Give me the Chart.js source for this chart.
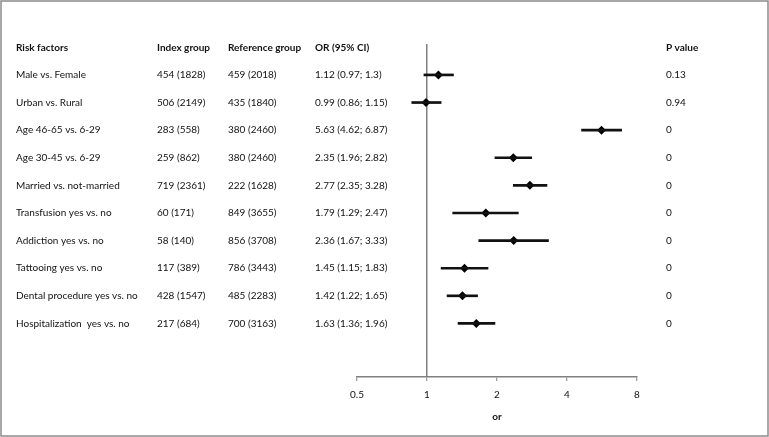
<!DOCTYPE html>
<html>
<head>
<meta charset="utf-8">
<title>Risk factors forest plot</title>
<script src="https://cdn.jsdelivr.net/npm/chart.js"></script>
<style>
  html, body { margin: 0; padding: 0; background: #fff; }
  #wrap { position: relative; width: 769px; height: 437px; }
</style>
</head>
<body>
<div id="wrap">
  <canvas id="myChart"></canvas>
</div>

<script>
    // table data
    const headers = ['Risk factors', 'Index group', 'Reference group', 'OR (95% CI)', 'P value'];
    const riskFactors = [
        'Male vs. Female',
        'Urban vs. Rural',
        'Age 46-65 vs. 6-29',
        'Age 30-45 vs. 6-29',
        'Married vs. not-married',
        'Transfusion yes vs. no',
        'Addiction yes vs. no',
        'Tattooing yes vs. no',
        'Dental procedure yes vs. no',
        'Hospitalization  yes vs. no'
    ];
    const indexGroup = ['454 (1828)', '506 (2149)', '283 (558)', '259 (862)', '719 (2361)',
        '60 (171)', '58 (140)', '117 (389)', '428 (1547)', '217 (684)'];
    const referenceGroup = ['459 (2018)', '435 (1840)', '380 (2460)', '380 (2460)', '222 (1628)',
        '849 (3655)', '856 (3708)', '786 (3443)', '485 (2283)', '700 (3163)'];
    const oddsRatio = [1.12, 0.99, 5.63, 2.35, 2.77, 1.79, 2.36, 1.45, 1.42, 1.63];
    const ciLow = [0.97, 0.86, 4.62, 1.96, 2.35, 1.29, 1.67, 1.15, 1.22, 1.36];
    const ciHigh = [1.3, 1.15, 6.87, 2.82, 3.28, 2.47, 3.33, 1.83, 1.65, 1.96];
    const pValues = ['0.13', '0.94', '0', '0', '0', '0', '0', '0', '0', '0'];
    const xTicks = [0.5, 1, 2, 4, 8];
    const xTitle = 'or';

    const FONT = 'Lato, "Liberation Sans", sans-serif';
    const colX = [16, 157, 228, 315, 666]; // left edge of each text column

    // draws the table text next to the plot, one line per y value
    const tableText = {
        id: 'tableText',
        afterDraw(chart) {
            const ctx = chart.ctx;
            const y = chart.scales.y;
            ctx.save();
            ctx.fillStyle = '#111';
            ctx.textBaseline = 'middle';
            ctx.textAlign = 'left';

            ctx.font = 'bold 10px ' + FONT;
            headers.forEach((h, c) => ctx.fillText(h, colX[c], y.getPixelForValue(-1)));

            ctx.font = '10px ' + FONT;
            riskFactors.forEach((name, i) => {
                const py = y.getPixelForValue(i);
                const orText = oddsRatio[i] + ' (' + ciLow[i] + '; ' + ciHigh[i] + ')';
                const cells = [name, indexGroup[i], referenceGroup[i], orText, pValues[i]];
                cells.forEach((t, c) => ctx.fillText(t, colX[c], py));
            });

            // frame round the figure
            ctx.strokeStyle = '#8c8c8c';
            ctx.lineWidth = 1.5;
            ctx.strokeRect(1, 1, chart.width - 2, chart.height - 2);
            ctx.restore();
        }
    };

    const ctx = document.getElementById('myChart');

    new Chart(ctx, {
        type: 'bar',
        data: {
            datasets: [{
                label: '95% CI',
                data: riskFactors.map((r, i) => ({ x: [ciLow[i], ciHigh[i]], y: i })),
                backgroundColor: '#111',
                borderWidth: 0,
                barThickness: 2
            }, {
                type: 'scatter',
                label: 'OR',
                data: riskFactors.map((r, i) => ({ x: oddsRatio[i], y: i })),
                pointStyle: 'rectRot',
                radius: 4.5,
                hoverRadius: 4.5,
                backgroundColor: '#000',
                borderColor: '#000',
                borderWidth: 0
            }]
        },
        options: {
            indexAxis: 'y',
            responsive: true,
            maintainAspectRatio: false,
            animation: false,
            layout: { padding: { left: 357, right: 132, top: 44, bottom: 0 } },
            plugins: {
                legend: { display: false },
                tooltip: { enabled: false }
            },
            scales: {
                y: {
                    type: 'linear',
                    display: false,
                    reverse: true,
                    offset: false,
                    min: -1.12,
                    max: 10.94
                },
                x: {
                    type: 'logarithmic',
                    position: 'bottom',
                    min: 0.5,
                    max: 8,
                    afterBuildTicks: (s) => { s.ticks = xTicks.map(v => ({ value: v })); },
                    afterFit: (s) => { s.height = 60; },
                    border: { display: true, color: '#808080', width: 1.5 },
                    grid: {
                        color: (c) => (c.tick && c.tick.value === 1 ? '#808080' : 'rgba(0,0,0,0)'),
                        lineWidth: 1.5,
                        drawTicks: true,
                        tickLength: 4,
                        tickColor: '#808080',
                        tickWidth: 1
                    },
                    ticks: {
                        autoSkip: false,
                        maxRotation: 0,
                        padding: 8,
                        color: '#111',
                        font: { family: FONT, size: 10 },
                        callback: (v) => String(v)
                    },
                    title: {
                        display: true,
                        text: xTitle,
                        color: '#111',
                        font: { family: FONT, size: 10, weight: 'bold' },
                        padding: { top: 0, bottom: 14 }
                    }
                }
            }
        },
        plugins: [tableText]
    });
</script>
</body>
</html>
